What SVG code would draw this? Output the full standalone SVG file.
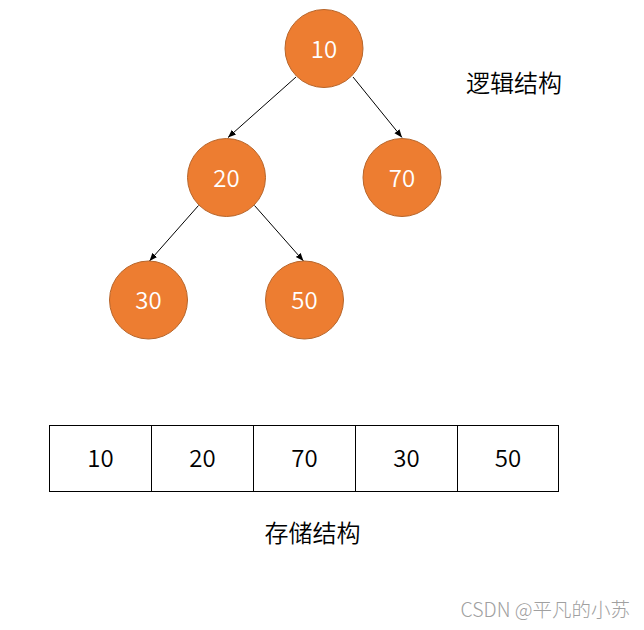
<svg xmlns="http://www.w3.org/2000/svg" width="644" height="630" viewBox="0 0 644 630">
<style>
.node circle{fill:#ED7D31;stroke:#B7652A;stroke-width:1}
.node text{fill:#FFFFFF;font-family:"Noto Sans CJK SC","Noto Sans",sans-serif;font-size:24px;font-weight:350;text-anchor:middle}
.cell rect{fill:#FFFFFF;stroke:#000000;stroke-width:1}
.cell text{fill:#000000;font-family:"Noto Sans CJK SC","Noto Sans",sans-serif;font-size:24px;font-weight:350;text-anchor:middle}
.label{fill:#000000;font-family:"Noto Sans CJK SC",sans-serif;font-size:24px;font-weight:350;text-anchor:middle}
.edge{stroke:#000000;stroke-width:1;fill:none;marker-end:url(#arr)}
.wm{fill:#A0A0A0;font-family:"Noto Sans CJK SC",sans-serif;font-size:19.5px;font-weight:300;text-anchor:end}
</style>
<defs>
<marker id="arr" viewBox="0 0 10 10" refX="10" refY="5" markerWidth="8" markerHeight="8" markerUnits="userSpaceOnUse" orient="auto">
<path d="M0,1 L10,5 L0,9 Z" fill="#000000"/>
</marker>
</defs>
<rect width="644" height="630" fill="#FFFFFF"/>
<g id="connectors">
<line class="edge" x1="296" y1="77" x2="228" y2="137.5"/>
<line class="edge" x1="353" y1="77" x2="402" y2="137.5"/>
<line class="edge" x1="198.5" y1="205.5" x2="149.5" y2="261"/>
<line class="edge" x1="254.5" y1="205.5" x2="303.5" y2="261"/>
</g>
<g id="n10" class="node"><circle cx="324" cy="48.5" r="39"/><text x="324" y="57.5">10</text></g>
<g id="n20" class="node"><circle cx="226.5" cy="177.5" r="39"/><text x="226.5" y="186.5">20</text></g>
<g id="n70" class="node"><circle cx="402" cy="177.5" r="39"/><text x="402" y="186.5">70</text></g>
<g id="n30" class="node"><circle cx="148.5" cy="300" r="39"/><text x="148.5" y="309">30</text></g>
<g id="n50" class="node"><circle cx="304.5" cy="300" r="39"/><text x="304.5" y="309">50</text></g>
<text class="label" x="514" y="92">逻辑结构</text>
<g id="array">
<g id="c0" class="cell"><rect x="49.5" y="425.5" width="102" height="66"/><text x="100.5" y="467">10</text></g>
<g id="c1" class="cell"><rect x="151.5" y="425.5" width="102" height="66"/><text x="202.5" y="467">20</text></g>
<g id="c2" class="cell"><rect x="253.5" y="425.5" width="102" height="66"/><text x="304.5" y="467">70</text></g>
<g id="c3" class="cell"><rect x="355.5" y="425.5" width="102" height="66"/><text x="406.5" y="467">30</text></g>
<g id="c4" class="cell"><rect x="457.5" y="425.5" width="101" height="66"/><text x="508" y="467">50</text></g>
</g>
<text class="label" x="312.5" y="542">存储结构</text>
<text class="wm" x="630" y="617">CSDN @平凡的小苏</text>
</svg>
